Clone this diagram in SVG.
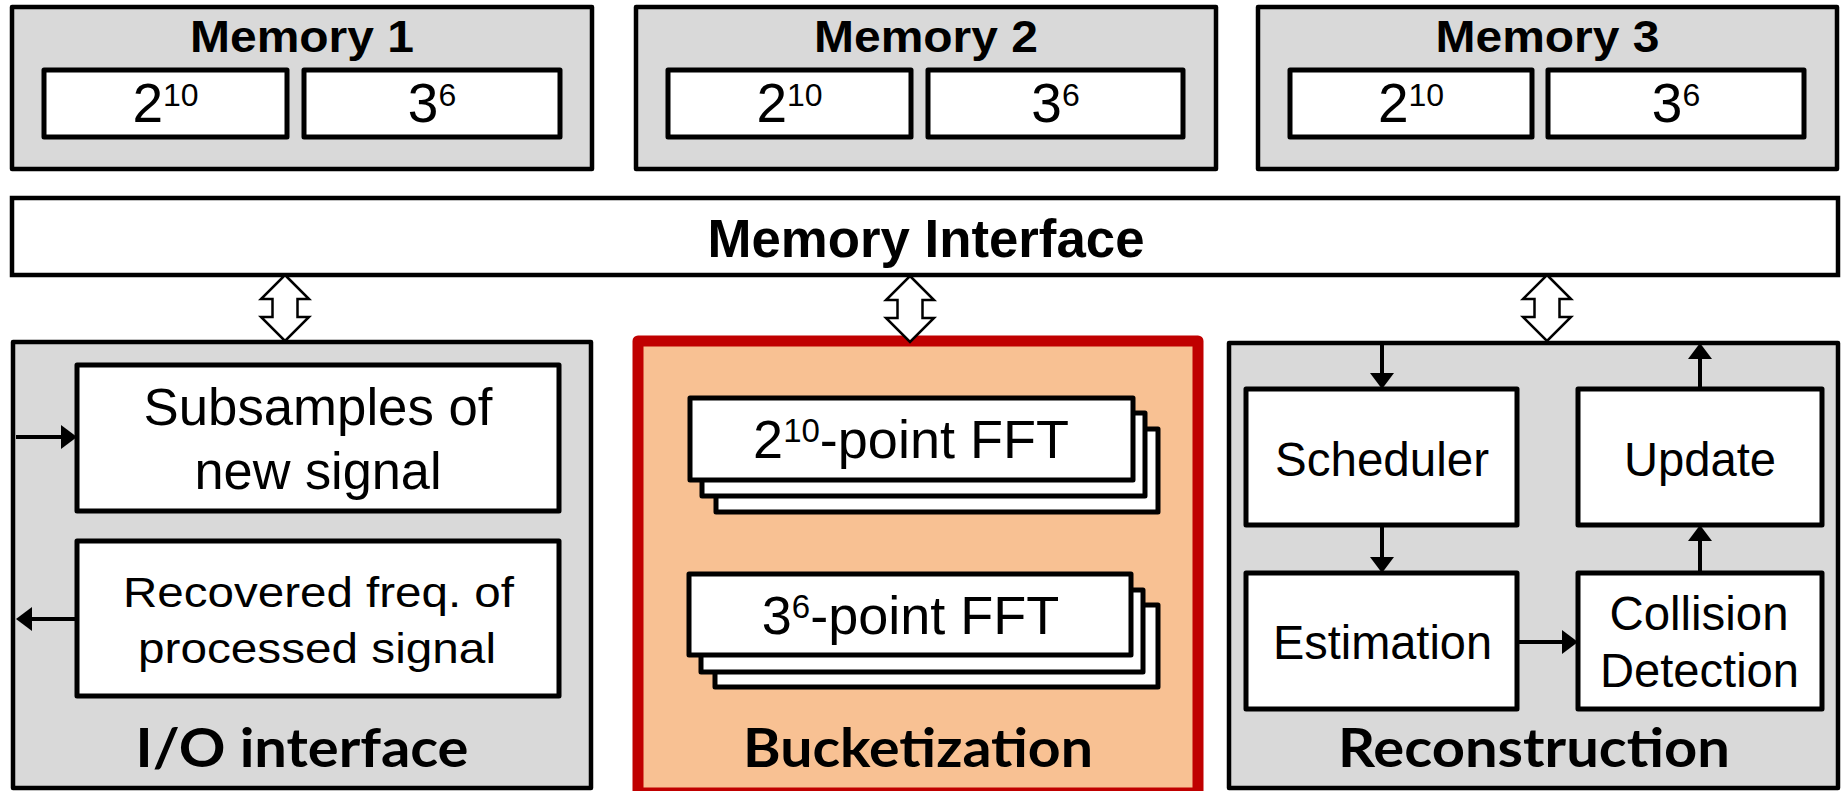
<svg xmlns="http://www.w3.org/2000/svg" width="1841" height="791" viewBox="0 0 1841 791">
<style>
.grey{fill:#D9D9D9;stroke:#000;stroke-width:4.5;stroke-linejoin:round}
.wbox{fill:#fff;stroke:#000;stroke-width:5;stroke-linejoin:round}
.t{font-family:"Liberation Sans",Arial,sans-serif;fill:#000;text-anchor:middle}
.b{font-family:"Liberation Sans",Arial,sans-serif;font-weight:bold;fill:#000;text-anchor:middle}
.title{font-family:Lato,"Open Sans",sans-serif;font-weight:bold;fill:#000;text-anchor:middle;font-size:54px}
.conn{stroke:#000;stroke-width:4;fill:none;marker-end:url(#ah)}
.dbl{fill:#fff;stroke:#000;stroke-width:2.5;stroke-linejoin:miter}
</style>
<defs>
<marker id="ah" markerUnits="userSpaceOnUse" markerWidth="17" markerHeight="24" refX="4" refY="12" orient="auto">
<path d="M0,0 L16,12 L0,24 Z" fill="#000"/>
</marker>
<polygon id="dblarrow" class="dbl" points="0,0 24,24 12.5,24 12.5,42 24,42 0,66 -24,42 -12.5,42 -12.5,24 -24,24"/>
</defs>
<rect width="1841" height="791" fill="#fff"/>

<g id="memory1">
<rect class="grey" x="12" y="7" width="580" height="162"/>
<text class="b" x="302" y="52" font-size="45" textLength="224" lengthAdjust="spacingAndGlyphs">Memory 1</text>
<rect class="wbox" x="44" y="70" width="243" height="67"/>
<text class="t" x="165.5" y="122" font-size="55">2<tspan font-size="32" dy="-16">10</tspan></text>
<rect class="wbox" x="304" y="70" width="256" height="67"/>
<text class="t" x="432" y="122" font-size="55">3<tspan font-size="32" dy="-16">6</tspan></text>
</g>

<g id="memory2">
<rect class="grey" x="636" y="7" width="580" height="162"/>
<text class="b" x="926" y="52" font-size="45" textLength="224" lengthAdjust="spacingAndGlyphs">Memory 2</text>
<rect class="wbox" x="668" y="70" width="243" height="67"/>
<text class="t" x="789.5" y="122" font-size="55">2<tspan font-size="32" dy="-16">10</tspan></text>
<rect class="wbox" x="928" y="70" width="255" height="67"/>
<text class="t" x="1055.5" y="122" font-size="55">3<tspan font-size="32" dy="-16">6</tspan></text>
</g>

<g id="memory3">
<rect class="grey" x="1258" y="7" width="579" height="162"/>
<text class="b" x="1547.5" y="52" font-size="45" textLength="224" lengthAdjust="spacingAndGlyphs">Memory 3</text>
<rect class="wbox" x="1290" y="70" width="242" height="67"/>
<text class="t" x="1411" y="122" font-size="55">2<tspan font-size="32" dy="-16">10</tspan></text>
<rect class="wbox" x="1548" y="70" width="256" height="67"/>
<text class="t" x="1676" y="122" font-size="55">3<tspan font-size="32" dy="-16">6</tspan></text>
</g>

<g id="memory-interface">
<rect x="12" y="198" width="1826" height="77" fill="#fff" stroke="#000" stroke-width="4.5"/>
<text class="b" x="926" y="257" font-size="54" textLength="437" lengthAdjust="spacingAndGlyphs">Memory Interface</text>
</g>

<g id="io-interface">
<rect class="grey" x="13" y="342" width="578" height="446"/>
<rect class="wbox" x="77" y="365" width="482" height="146"/>
<text class="t" x="318" y="425" font-size="51" textLength="349" lengthAdjust="spacingAndGlyphs">Subsamples of</text>
<text class="t" x="318" y="489" font-size="51" textLength="247" lengthAdjust="spacingAndGlyphs">new signal</text>
<rect class="wbox" x="77" y="541" width="482" height="155"/>
<text class="t" x="318.5" y="607" font-size="43" textLength="391" lengthAdjust="spacingAndGlyphs">Recovered freq. of</text>
<text class="t" x="317" y="663" font-size="43" textLength="358" lengthAdjust="spacingAndGlyphs">processed signal</text>
<text class="title" x="302" y="767" textLength="333" lengthAdjust="spacingAndGlyphs">I/O interface</text>
</g>

<g id="bucketization">
<rect x="638" y="341" width="560" height="452" fill="#F8C193" stroke="#C00000" stroke-width="11" stroke-linejoin="round"/>
<rect class="wbox" x="716" y="429" width="442" height="83"/>
<rect class="wbox" x="702" y="413" width="443" height="83"/>
<rect class="wbox" x="690" y="398" width="443" height="82"/>
<text class="t" x="911" y="458" font-size="54">2<tspan font-size="33" dy="-16">10</tspan><tspan dy="16">-point FFT</tspan></text>
<rect class="wbox" x="715" y="605" width="443" height="82"/>
<rect class="wbox" x="701" y="590" width="442" height="82"/>
<rect class="wbox" x="689" y="574" width="442" height="81"/>
<text class="t" x="910.5" y="634" font-size="54">3<tspan font-size="33" dy="-16">6</tspan><tspan dy="16">-point FFT</tspan></text>
<text class="title" x="918" y="767" textLength="350" lengthAdjust="spacingAndGlyphs">Bucketization</text>
</g>

<g id="reconstruction">
<rect class="grey" x="1229" y="343" width="609" height="445"/>
<g id="scheduler">
<rect class="wbox" x="1246" y="389" width="271" height="136"/>
<text class="t" x="1382" y="476" font-size="48" textLength="214" lengthAdjust="spacingAndGlyphs">Scheduler</text>
</g>
<g id="update">
<rect class="wbox" x="1578" y="389" width="244" height="136"/>
<text class="t" x="1700" y="476" font-size="48" textLength="152" lengthAdjust="spacingAndGlyphs">Update</text>
</g>
<g id="estimation">
<rect class="wbox" x="1246" y="573" width="271" height="136"/>
<text class="t" x="1382.5" y="659" font-size="48" textLength="219" lengthAdjust="spacingAndGlyphs">Estimation</text>
</g>
<g id="collision-detection">
<rect class="wbox" x="1578" y="573" width="244" height="136"/>
<text class="t" x="1699" y="630" font-size="48" textLength="179" lengthAdjust="spacingAndGlyphs">Collision</text>
<text class="t" x="1699.5" y="687" font-size="48" textLength="199" lengthAdjust="spacingAndGlyphs">Detection</text>
</g>
<text class="title" x="1534" y="767" textLength="392" lengthAdjust="spacingAndGlyphs">Reconstruction</text>
</g>

<g id="connectors">
<use href="#dblarrow" x="285" y="275"/>
<use href="#dblarrow" x="910" y="276"/>
<use href="#dblarrow" x="1547" y="275"/>
<line class="conn" x1="16" y1="437" x2="65" y2="437"/>
<line class="conn" x1="77" y1="619" x2="28" y2="619"/>
<line class="conn" x1="1382" y1="343" x2="1382" y2="377"/>
<line class="conn" x1="1382" y1="525" x2="1382" y2="561"/>
<line class="conn" x1="1517" y1="642" x2="1566" y2="642"/>
<line class="conn" x1="1700" y1="573" x2="1700" y2="537"/>
<line class="conn" x1="1700" y1="389" x2="1700" y2="355"/>
</g>
</svg>
